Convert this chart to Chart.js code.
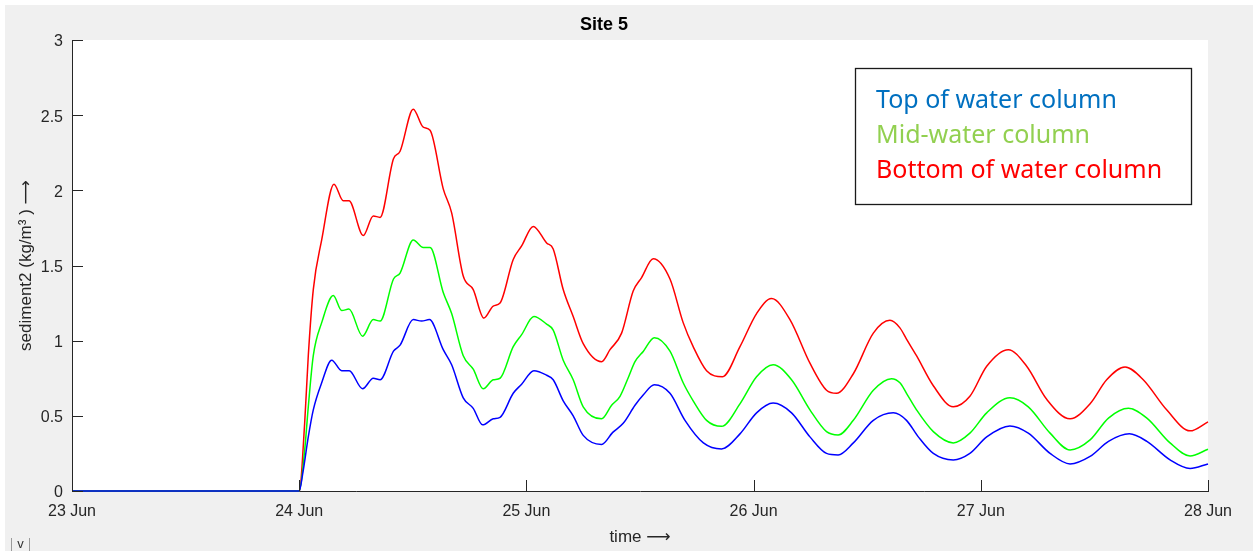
<!DOCTYPE html>
<html>
<head>
<meta charset="utf-8">
<script src="https://cdn.jsdelivr.net/npm/chart.js@4.4.1/dist/chart.umd.min.js"></script>
<style>
  html, body { margin: 0; padding: 0; background: #fff; overflow: hidden; }
  canvas { display: block; }
</style>
</head>
<body>
<canvas id="c" width="1255" height="551"></canvas>
<script>
// Axis labels
const dayLabels = ['23 Jun', '24 Jun', '25 Jun', '26 Jun', '27 Jun', '28 Jun'];
const yTickValues = [0, 0.5, 1, 1.5, 2, 2.5, 3];
const seriesNames = ['Top of water column', 'Mid-water column', 'Bottom of water column'];

// Time in days since 23 Jun 00:00, concentration in kg/m3
const topT = [0, 1.0, 1.016, 1.04, 1.062, 1.099, 1.143, 1.187, 1.22, 1.279, 1.326, 1.356, 1.415, 1.444, 1.502, 1.539, 1.573, 1.634, 1.671, 1.722, 1.766, 1.807, 1.854, 1.884, 1.942, 1.979, 2.033, 2.089, 2.118, 2.162, 2.206, 2.25, 2.331, 2.38, 2.426, 2.478, 2.515, 2.563, 2.632, 2.698, 2.779, 2.859, 2.94, 3.013, 3.086, 3.167, 3.248, 3.321, 3.372, 3.439, 3.527, 3.615, 3.673, 3.725, 3.791, 3.879, 3.952, 4.026, 4.128, 4.209, 4.305, 4.393, 4.481, 4.562, 4.654, 4.731, 4.833, 4.921, 5.0];
const topV = [0, 0, 0.12, 0.36, 0.54, 0.72, 0.87, 0.80, 0.80, 0.68, 0.75, 0.74, 0.93, 0.97, 1.14, 1.13, 1.14, 0.94, 0.84, 0.62, 0.55, 0.44, 0.48, 0.49, 0.65, 0.71, 0.80, 0.77, 0.74, 0.60, 0.50, 0.37, 0.31, 0.39, 0.45, 0.57, 0.64, 0.707, 0.65, 0.47, 0.32, 0.28, 0.38, 0.52, 0.585, 0.52, 0.36, 0.25, 0.24, 0.32, 0.47, 0.52, 0.47, 0.36, 0.25, 0.207, 0.25, 0.36, 0.433, 0.385, 0.25, 0.18, 0.23, 0.33, 0.38, 0.33, 0.207, 0.15, 0.18];

const midT = [0, 1.0, 1.024, 1.04, 1.062, 1.099, 1.15, 1.187, 1.219, 1.279, 1.326, 1.356, 1.415, 1.444, 1.502, 1.546, 1.576, 1.634, 1.671, 1.722, 1.766, 1.81, 1.854, 1.884, 1.942, 1.979, 2.033, 2.089, 2.118, 2.162, 2.206, 2.25, 2.331, 2.375, 2.412, 2.45, 2.478, 2.515, 2.563, 2.632, 2.69, 2.734, 2.793, 2.859, 2.94, 3.013, 3.086, 3.167, 3.248, 3.321, 3.372, 3.439, 3.527, 3.607, 3.644, 3.673, 3.717, 3.791, 3.879, 3.952, 4.026, 4.128, 4.209, 4.305, 4.393, 4.481, 4.562, 4.65, 4.731, 4.833, 4.921, 5.0];
const midV = [0, 0, 0.27, 0.56, 0.90, 1.12, 1.30, 1.20, 1.21, 1.03, 1.14, 1.13, 1.41, 1.45, 1.67, 1.62, 1.62, 1.32, 1.18, 0.90, 0.81, 0.68, 0.74, 0.75, 0.96, 1.04, 1.16, 1.11, 1.07, 0.87, 0.74, 0.56, 0.48, 0.57, 0.63, 0.76, 0.86, 0.93, 1.02, 0.93, 0.72, 0.60, 0.47, 0.43, 0.58, 0.76, 0.84, 0.74, 0.54, 0.395, 0.373, 0.47, 0.67, 0.747, 0.72, 0.65, 0.54, 0.395, 0.32, 0.385, 0.52, 0.62, 0.56, 0.385, 0.273, 0.34, 0.485, 0.55, 0.485, 0.32, 0.233, 0.278];

const botT = [0, 1.0, 1.024, 1.04, 1.062, 1.099, 1.153, 1.194, 1.219, 1.282, 1.326, 1.356, 1.415, 1.444, 1.502, 1.546, 1.576, 1.634, 1.671, 1.722, 1.766, 1.813, 1.854, 1.884, 1.942, 1.979, 2.03, 2.089, 2.118, 2.162, 2.206, 2.25, 2.331, 2.368, 2.419, 2.47, 2.507, 2.558, 2.632, 2.69, 2.734, 2.793, 2.863, 2.94, 3.013, 3.079, 3.16, 3.248, 3.321, 3.365, 3.439, 3.527, 3.6, 3.644, 3.673, 3.717, 3.791, 3.879, 3.952, 4.026, 4.121, 4.202, 4.29, 4.393, 4.481, 4.554, 4.635, 4.715, 4.818, 4.921, 5.0];
const botV = [0, 0, 0.45, 0.90, 1.34, 1.67, 2.04, 1.93, 1.93, 1.70, 1.83, 1.82, 2.21, 2.26, 2.54, 2.42, 2.40, 2.01, 1.85, 1.43, 1.34, 1.15, 1.23, 1.25, 1.54, 1.63, 1.76, 1.65, 1.61, 1.34, 1.16, 0.98, 0.86, 0.94, 1.05, 1.33, 1.42, 1.545, 1.41, 1.12, 0.96, 0.80, 0.76, 0.96, 1.18, 1.28, 1.14, 0.85, 0.67, 0.65, 0.78, 1.05, 1.135, 1.085, 1.01, 0.90, 0.70, 0.56, 0.63, 0.83, 0.94, 0.83, 0.61, 0.48, 0.58, 0.74, 0.825, 0.74, 0.54, 0.40, 0.46];

const lineColors = ['#0000ff', '#00ff00', '#ff0000'];
const textColors = ['#0070c0', '#92d050', '#ff0000'];

const pts = (ts, vs) => ts.map((t, i) => ({ x: t, y: vs[i] }));

const axisFont = '"Liberation Sans", Arial, Helvetica, "DejaVu Sans", sans-serif';
const axisColor = '#262626';

// Figure background, plot area and MATLAB-style inward tick marks
const framePlugin = {
  id: 'frame',
  beforeDraw(chart) {
    const { ctx, chartArea: a, width, height } = chart;
    ctx.save();
    ctx.fillStyle = '#ffffff';
    ctx.fillRect(0, 0, width, height);
    ctx.fillStyle = '#f0f0f0';
    ctx.fillRect(5, 5, width - 7, height - 5);
    ctx.fillStyle = '#ffffff';
    ctx.fillRect(a.left, a.top, a.right - a.left, a.bottom - a.top);
    ctx.restore();
  },
  afterDraw(chart) {
    const { ctx, chartArea: a, scales: { x, y } } = chart;
    ctx.save();
    ctx.strokeStyle = axisColor;
    ctx.lineWidth = 1;
    ctx.beginPath();
    x.ticks.forEach(t => {
      const px = Math.round(x.getPixelForValue(t.value)) + 0.5;
      ctx.moveTo(px, a.bottom);
      ctx.lineTo(px, a.bottom - 11);
    });
    y.ticks.forEach(t => {
      const py = Math.round(y.getPixelForValue(t.value)) + 0.5;
      ctx.moveTo(a.left, py);
      ctx.lineTo(a.left + 11, py);
    });
    ctx.stroke();

    // small figure-toolbar toggle at the bottom-left corner
    ctx.strokeStyle = '#9a9a9a';
    ctx.beginPath();
    ctx.moveTo(11.5, 538); ctx.lineTo(11.5, 551);
    ctx.moveTo(29.5, 538); ctx.lineTo(29.5, 551);
    ctx.stroke();
    ctx.fillStyle = '#333';
    ctx.font = '13px ' + axisFont;
    ctx.textAlign = 'center';
    ctx.textBaseline = 'middle';
    ctx.fillText('v', 20.5, 544);
    ctx.restore();
  }
};

// Boxed text legend in the upper right of the plot
const textLegendPlugin = {
  id: 'textLegend',
  afterDraw(chart) {
    const { ctx, chartArea: a } = chart;
    const bx = a.right - 353, by = a.top + 28, bw = 336, bh = 136;
    ctx.save();
    ctx.fillStyle = '#ffffff';
    ctx.fillRect(bx, by, bw, bh);
    ctx.strokeStyle = '#1a1a1a';
    ctx.lineWidth = 1.3;
    ctx.strokeRect(bx + 0.5, by + 0.5, bw, bh);
    ctx.font = '25px "Noto Sans", "Open Sans", sans-serif';
    ctx.textAlign = 'left';
    ctx.textBaseline = 'alphabetic';
    seriesNames.forEach((name, i) => {
      ctx.fillStyle = textColors[i];
      ctx.fillText(name, bx + 21, by + 40 + i * 35);
    });
    ctx.restore();
  }
};

new Chart(document.getElementById('c'), {
  type: 'line',
  data: {
    datasets: [
      { label: seriesNames[0], data: pts(topT, topV), borderColor: lineColors[0] },
      { label: seriesNames[1], data: pts(midT, midV), borderColor: lineColors[1] },
      { label: seriesNames[2], data: pts(botT, botV), borderColor: lineColors[2] }
    ].map(d => Object.assign(d, {
      borderWidth: 1.5,
      pointRadius: 0,
      fill: false,
      cubicInterpolationMode: 'monotone',
      clip: false
    }))
  },
  options: {
    responsive: false,
    animation: false,
    devicePixelRatio: 1,
    events: [],
    layout: { padding: { left: 0, right: 47, top: 0, bottom: 0 } },
    plugins: {
      legend: { display: false },
      tooltip: { enabled: false },
      title: {
        display: true,
        text: 'Site 5',
        color: '#000000',
        font: { family: axisFont, size: 18, weight: 'bold', lineHeight: 1.2 },
        padding: { top: 14.4, bottom: 4 }
      }
    },
    scales: {
      x: {
        type: 'linear',
        min: 0,
        max: 5,
        afterFit: s => { s.height = 60; },
        grid: { display: false, drawTicks: false },
        border: { display: true, color: axisColor, width: 1 },
        ticks: {
          stepSize: 1,
          autoSkip: false,
          maxRotation: 0,
          padding: 11,
          color: axisColor,
          font: { family: axisFont, size: 16 },
          callback: v => dayLabels[v]
        },
        title: {
          display: true,
          text: 'time ⟶',
          color: axisColor,
          font: { family: axisFont, size: 17, lineHeight: 1.2 },
          padding: { top: 0, bottom: 3 }
        }
      },
      y: {
        min: 0,
        max: 3,
        afterFit: s => { s.width = 72; },
        afterBuildTicks: s => { s.ticks = yTickValues.map(v => ({ value: v })); },
        grid: { display: false, drawTicks: false },
        border: { display: true, color: axisColor, width: 1 },
        ticks: {
          padding: 9,
          labelOffset: 2,
          color: axisColor,
          font: { family: axisFont, size: 16 },
          callback: v => String(v)
        },
        title: {
          display: true,
          text: 'sediment2 (kg/m³ ) ⟶',
          color: axisColor,
          font: { family: axisFont, size: 17, lineHeight: 1.2 },
          padding: { top: 16, bottom: 0 }
        }
      }
    }
  },
  plugins: [framePlugin, textLegendPlugin]
});
</script>
</body>
</html>
